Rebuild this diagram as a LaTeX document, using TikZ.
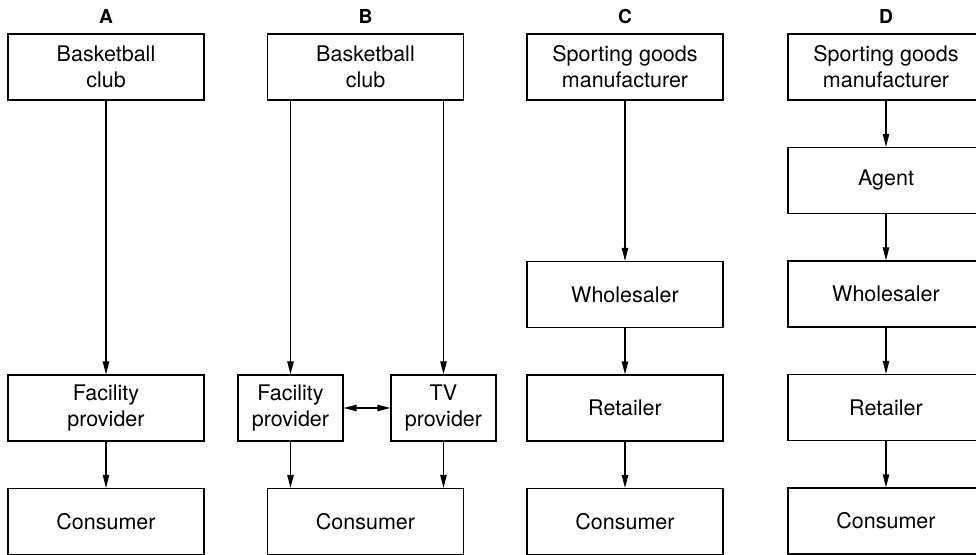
\documentclass[tikz,border=0pt]{standalone}
\usepackage{fontspec}
\setmainfont{TeX Gyre Heros}
\usepackage{tikz}
\usetikzlibrary{arrows.meta,positioning}
\tikzset{%
	chbox/.style    = {draw, rectangle, line width=0.6pt, minimum width=98pt, minimum height=33pt, align=center, inner sep=0pt,
	                   font=\fontsize{10.75}{13}\selectfont},
	smallbox/.style = {chbox, minimum width=52.5pt}, % split boxes in B
	heading/.style  = {font=\fontsize{9.6}{11}\selectfont\bfseries}, % column letters
	flow/.style     = {line width=0.6pt, -{Triangle[length=6.5pt,width=3.2pt]}},
	both/.style     = {line width=0.6pt, {Triangle[length=6.5pt,width=3.2pt]}-{Triangle[length=6.5pt,width=3.2pt]}},
}

\begin{document}
\begin{tikzpicture}[node distance=56.75pt]
	\useasboundingbox (0pt,0pt) rectangle (488pt,-277.5pt);
	\clip (0pt,0pt) rectangle (488pt,-277.5pt);

	% column headings
	\node [heading] (hA) at (53pt,-8.5pt) {A};
	\node [heading] (hB) at (182.75pt,-8.5pt) {B};
	\node [heading] (hC) at (312.5pt,-8.5pt) {C};
	\node [heading] (hD) at (443pt,-8.5pt) {D};

	% A
	\node [chbox] (clubA) at (53pt,-33.5pt) {Basketball\\club};
	\node [chbox] (facA) [below of=clubA,node distance=170.5pt] {Facility\\provider};
	\node [chbox] (conA) [below of=facA] {Consumer};

	% B
	\node [chbox] (clubB) at (182.75pt,-33.5pt) {Basketball\\club};
	\node [smallbox] (facB) at (145.25pt,-204pt) {Facility\\provider};
	\node [smallbox] (tvB) at (221.75pt,-204pt) {TV\\provider};
	\node [chbox] (conB) [below of=clubB,node distance=227.25pt] {Consumer};

	% C
	\node [chbox] (mfrC) at (312.5pt,-33.5pt) {Sporting goods\\manufacturer};
	\node [chbox] (wsC) [below of=mfrC,node distance=113.75pt] {Wholesaler};
	\node [chbox] (retC) [below of=wsC] {Retailer};
	\node [chbox] (conC) [below of=retC] {Consumer};

	% D
	\node [chbox] (mfrD) at (443pt,-33.5pt) {Sporting goods\\manufacturer};
	\node [chbox] (agD) [below of=mfrD] {Agent};
	\node [chbox] (wsD) [below of=agD] {Wholesaler};
	\node [chbox] (retD) [below of=wsD] {Retailer};
	\node [chbox] (conD) [below of=retD] {Consumer};

	\draw[flow] (clubA) -- (facA);
	\draw[flow] (facA) -- (conA);

	\draw[flow] (facB |- clubB.south) -- (facB);
	\draw[flow] (tvB |- clubB.south) -- (tvB);
	\draw[both] (facB) -- (tvB);
	\draw[flow] (facB) -- (facB |- conB.north);
	\draw[flow] (tvB) -- (tvB |- conB.north);

	\draw[flow] (mfrC) -- (wsC);
	\draw[flow] (wsC) -- (retC);
	\draw[flow] (retC) -- (conC);

	\draw[flow] (mfrD) -- (agD);
	\draw[flow] (agD) -- (wsD);
	\draw[flow] (wsD) -- (retD);
	\draw[flow] (retD) -- (conD);
\end{tikzpicture}
\end{document}
